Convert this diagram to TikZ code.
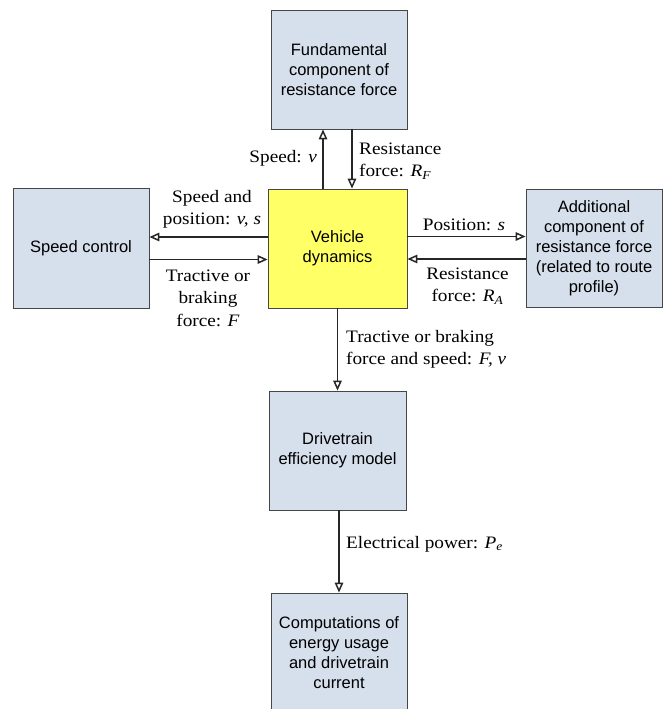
\documentclass[tikz,border=0pt]{standalone}
\usepackage{fontspec}
\setmainfont{Liberation Serif}[FakeStretch=1.1]
\newfontfamily\boxfont{Liberation Sans}
\usepackage{tikz}
\usepackage{xcolor}
\usetikzlibrary{arrows.meta}
\definecolor{boxblue}{RGB}{214,223,236}
\definecolor{boxyellow}{RGB}{255,255,102}
\definecolor{edgegray}{RGB}{70,70,70}
\begin{document}
\begin{tikzpicture}[x=1pt,y=-1pt,every node/.style={inner sep=0pt},
  blk/.style={draw=edgegray,line width=0.8pt,fill=boxblue,minimum width=136pt,minimum height=119pt,align=center,font=\boxfont\fontsize{16.5}{20}\selectfont},
  lbl/.style={align=center,font=\fontsize{17.5}{22.5}\selectfont},
  flow/.style={draw=black!85,line width=1.5pt,-{Triangle[open,length=10pt,width=8.5pt]}}]
\clip (0,0) rectangle (664,709);
\node (fund) at (339,69.5) [blk]{Fundamental\\component of\\resistance force};
\node (veh) at (337.5,248.5) [blk,fill=boxyellow,minimum width=139pt]{Vehicle\\dynamics};
\node (ctrl) at (81,248) [blk,minimum height=120pt]{Speed control};
\node (addl) at (594,248) [blk,minimum height=118pt]{Additional\\component of\\resistance force\\(related to route\\profile)};
\node (drive) at (337.5,450.5) [blk,minimum width=137pt]{Drivetrain\\efficiency model};
\node (comp) at (339,652.5) [blk]{Computations of\\energy usage\\and drivetrain\\current};
\draw[flow] ([xshift=-14.5pt]veh.north) -- ([xshift=-14.5pt]veh.north |- fund.south);
\draw[flow] ([xshift=13pt]fund.south) -- ([xshift=13pt]fund.south |- veh.north);
\draw[flow] ([yshift=11.5pt]veh.west) -- ([yshift=11.5pt]veh.west -| ctrl.east);
\draw[flow] ([yshift=-11.5pt]ctrl.east) -- ([yshift=-11.5pt]ctrl.east -| veh.west);
\draw[flow] ([yshift=12pt]veh.east) -- ([yshift=12pt]veh.east -| addl.west);
\draw[flow] ([yshift=-11pt]addl.west) -- ([yshift=-11pt]addl.west -| veh.east);
\draw[flow] (veh.south) -- (drive.north);
\draw[flow] ([xshift=1.5pt]drive.south) -- ([xshift=1.5pt]drive.south |- comp.north);
\node (vlbl) at (317,158) [lbl,anchor=east]{Speed: \textit{v}};
\node (rflbl) at (359,161) [lbl,anchor=west,align=left]{Resistance\\force: \textit{R}\textsubscript{\textit{F}}};
\node (vslbl) at (212,209.5) [lbl]{Speed and\\position: \textit{v, s}};
\node (flbl) at (208,298) [lbl]{Tractive or\\braking\\force: \textit{F}};
\node (slbl) at (464,225) [lbl]{Position: \textit{s}};
\node (ralbl) at (467.5,286) [lbl]{Resistance\\force: \textit{R}\textsubscript{\textit{A}}};
\node (fvlbl) at (346,349.5) [lbl,anchor=west,align=left]{Tractive or braking\\force and speed: \textit{F, v}};
\node (pelbl) at (346,544) [lbl,anchor=west]{Electrical power: \textit{P}\textsubscript{\textit{e}}};
\end{tikzpicture}
\end{document}
